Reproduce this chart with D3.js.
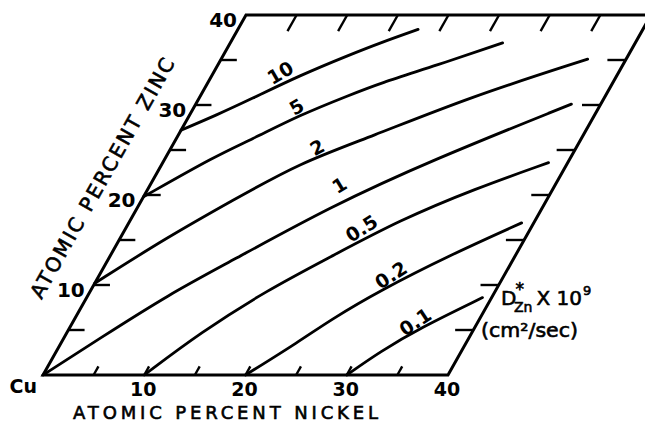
<!DOCTYPE html>
<html lang="en">
<head>
    <meta charset="UTF-8">
    <title>Zn diffusion in Cu-Ni-Zn</title>
    <style>
        body{
            margin: 0;
            background-color: #fff;
        }
        svg{
            background-color: #fff;
            display: block;
        }
        text{
            font-family: "DejaVu Sans", sans-serif;
            fill: #000;
        }
        .heavy{
            stroke: #000;
            stroke-width: 0.6px;
        }
    </style>
</head>
<body>

<div id="chart"></div>

<script src="https://cdn.jsdelivr.net/npm/d3@7"></script>
<script>
    // composition ticks (atomic percent)
    var nickelLabels = [10, 20, 30, 40];
    var zincLabels = [10, 20, 30, 40];
    var minorTicks = [5, 10, 15, 20, 25, 30, 35];

    // iso-diffusivity curves, D*Zn x 10^9 (cm2/sec)
    var levels = ['10', '5', '2', '1', '0.5', '0.2', '0.1'];

    var ni10 = [0, 2.7, 5.1, 8.7, 12.5, 14.8, 17.8];
    var zn10 = [27.2, 28.9, 30.6, 33.3, 35.6, 36.9, 38.4];

    var ni5 = [0, 4.9, 7.4, 10.9, 14.7, 17.0, 21.6, 26.9];
    var zn5 = [19.8, 24.4, 26.1, 28.9, 31.1, 32.4, 34.4, 36.9];

    var ni2 = [0, 4.6, 9.0, 13.6, 19.0, 26.7, 36.2];
    var zn2 = [10.2, 15.3, 19.4, 23.6, 26.4, 30.9, 35.1];

    var ni1 = [0, 3.6, 8.0, 12.2, 19.0, 26.5, 37.1];
    var zn1 = [0, 4.1, 9.0, 12.6, 18.7, 23.9, 30.1];

    var ni05 = [10.0, 13.2, 17.4, 21.8, 26.6, 32.3, 38.1];
    var zn05 = [0, 4.7, 9.4, 13.1, 17.2, 20.7, 23.6];

    var ni02 = [20.0, 23.5, 25.3, 28.6, 33.5, 38.8];
    var zn02 = [0, 3.8, 6.1, 9.4, 13.3, 16.9];

    var ni01 = [30.0, 32.0, 34.6, 39.1];
    var zn01 = [0, 2.6, 5.2, 8.6];

    // where each curve is labelled
    var labelNi = [6.6, 10.1, 14.4, 18.7, 23.3, 28.8, 33.8];
    var labelZn = [33.6, 29.8, 25.3, 21.1, 16.3, 11.1, 5.9];

    var width = 645, height = 423;

    var svg = d3.select('#chart')
        .append('svg')
        .attr('width', width)
        .attr('height', height);

    // skewed composition axes: nickel runs along the bottom, zinc up the left side
    var xScale = d3.scaleLinear().domain([0, 40]).range([43, 448]);
    var yScale = d3.scaleLinear().domain([0, 40]).range([375, 15]);
    var skew = d3.scaleLinear().domain([0, 40]).range([0, 203]);

    function px(ni, zn){
        return [xScale(ni) + skew(zn), yScale(zn)];
    }

    var curves = [
        [ni10, zn10], [ni5, zn5], [ni2, zn2], [ni1, zn1],
        [ni05, zn05], [ni02, zn02], [ni01, zn01]
    ].map(function(c, i){
        return {
            level: levels[i],
            points: c[0].map(function(n, j){ return px(n, c[1][j]); })
        };
    });

    // frame
    var frame = [px(0, 0), px(40, 0), px(40, 40), px(0, 40)];
    svg.append('path')
        .attr('d', 'M' + frame.join('L') + 'Z')
        .attr('fill', 'none')
        .attr('stroke', '#000')
        .attr('stroke-width', 3)
        .attr('stroke-linejoin', 'miter');

    // ticks
    var tickG = svg.append('g')
        .attr('stroke', '#000')
        .attr('stroke-width', 2.4);

    minorTicks.forEach(function(v){
        var segs = [
            [px(v, 0), px(v, 0.95)],     // bottom
            [px(v, 40), px(v, 38.2)],    // top
            [px(0, v), px(1.6, v)],      // left
            [px(40, v), px(38.2, v)]     // right
        ];
        segs.forEach(function(s){
            tickG.append('line')
                .attr('x1', s[0][0]).attr('y1', s[0][1])
                .attr('x2', s[1][0]).attr('y2', s[1][1]);
        });
    });

    // curves (smoothed through the read-off points)
    var line = d3.line().curve(d3.curveBasis);

    var paths = svg.selectAll('.iso')
        .data(curves)
        .enter()
        .append('path')
        .attr('class', 'iso')
        .attr('d', function(d){ return line(d.points); })
        .attr('fill', 'none')
        .attr('stroke', '#000')
        .attr('stroke-width', 2.8)
        .attr('stroke-linecap', 'round');

    // curve labels, turned to follow the drawn curve
    function angleOnPath(node, x){
        var len = node.getTotalLength(), lo = 0, hi = len;
        for (var k = 0; k < 30; k++){
            var mid = (lo + hi) / 2;
            if (node.getPointAtLength(mid).x < x) lo = mid; else hi = mid;
        }
        var a = node.getPointAtLength(Math.max(0, lo - 6));
        var b = node.getPointAtLength(Math.min(len, lo + 6));
        return Math.atan2(b.y - a.y, b.x - a.x) * 180 / Math.PI;
    }

    var nodes = paths.nodes();
    svg.selectAll('.lvl')
        .data(curves)
        .enter()
        .append('text')
        .attr('class', 'lvl')
        .attr('transform', function(d, i){
            var p = px(labelNi[i], labelZn[i]);
            var a = angleOnPath(nodes[i], p[0]) - 5;
            return 'translate(' + p[0] + ',' + p[1] + ') rotate(' + a + ')';
        })
        .attr('text-anchor', 'middle')
        .attr('dy', '0.36em')
        .attr('font-size', '19px')
        .attr('font-weight', 'bold')
        .text(function(d){ return d.level; });

    // nickel tick labels
    svg.selectAll('.niLab')
        .data(nickelLabels)
        .enter()
        .append('text')
        .attr('class', 'niLab')
        .attr('x', function(d){ return xScale(d) - 1; })
        .attr('y', yScale(0) + 21)
        .attr('text-anchor', 'middle')
        .attr('font-size', '19px')
        .attr('font-weight', 'bold')
        .text(function(d){ return d; });

    // zinc tick labels
    svg.selectAll('.znLab')
        .data(zincLabels)
        .enter()
        .append('text')
        .attr('class', 'znLab')
        .attr('x', function(d){ return px(0, d)[0] - 9; })
        .attr('y', function(d){ return px(0, d)[1] + 12; })
        .attr('text-anchor', 'end')
        .attr('font-size', '20px')
        .attr('font-weight', 'bold')
        .text(function(d){ return d; });

    svg.append('text')
        .attr('x', 37)
        .attr('y', 393)
        .attr('text-anchor', 'end')
        .attr('font-size', '19px')
        .attr('font-weight', 'bold')
        .text('Cu');

    // axis titles
    svg.append('text')
        .attr('class', 'heavy')
        .attr('x', 73)
        .attr('y', 419)
        .attr('font-size', '18px')
        .attr('textLength', 305)
        .attr('lengthAdjust', 'spacing')
        .text('ATOMIC PERCENT NICKEL');

    var edgeAngle = Math.atan2(px(0, 40)[1] - px(0, 0)[1], px(0, 40)[0] - px(0, 0)[0]) * 180 / Math.PI;
    svg.append('text')
        .attr('class', 'heavy')
        .attr('transform', 'translate(102,178) rotate(' + edgeAngle + ')')
        .attr('text-anchor', 'middle')
        .attr('dy', '0.36em')
        .attr('font-size', '20px')
        .attr('textLength', 272)
        .attr('lengthAdjust', 'spacing')
        .text('ATOMIC PERCENT ZINC');

    // units note
    var note = svg.append('text')
        .attr('class', 'heavy')
        .attr('x', 501)
        .attr('y', 305)
        .attr('font-size', '20px');
    note.append('tspan').text('D');
    note.append('tspan').attr('font-size', '17px').attr('dy', -10).attr('dx', -1).text('*');
    note.append('tspan').attr('font-size', '14px').attr('dy', 17).attr('dx', -10).text('Zn');
    note.append('tspan').attr('dy', -7).attr('dx', 4).text('X 10');
    note.append('tspan').attr('font-size', '13px').attr('dy', -10).attr('dx', 1).text('9');

    svg.append('text')
        .attr('class', 'heavy')
        .attr('x', 481)
        .attr('y', 337)
        .attr('font-size', '19px')
        .attr('textLength', 97)
        .attr('lengthAdjust', 'spacingAndGlyphs')
        .text('(cm²/sec)');
</script>

</body>
</html>
